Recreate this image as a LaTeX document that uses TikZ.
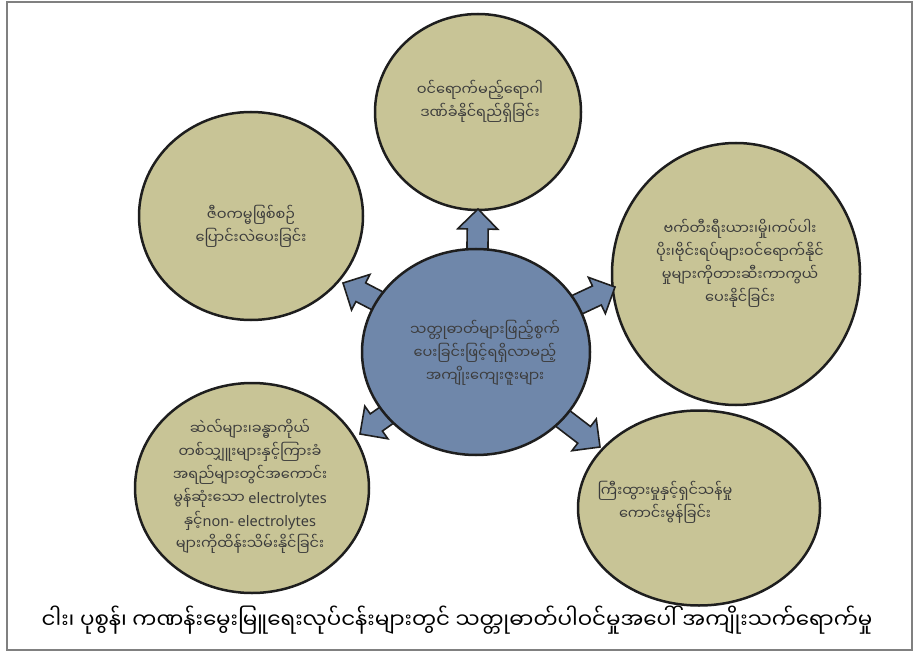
\documentclass[tikz,border=0pt]{standalone}
\usepackage{fontspec}
\newfontfamily\mya[Script=Myanmar]{Noto Sans Myanmar UI}
\newfontfamily\lat{Noto Sans}
\usetikzlibrary{shapes.geometric,calc}
\definecolor{khaki}{HTML}{C8C496}
\definecolor{steel}{HTML}{6F87AA}
\definecolor{outl}{HTML}{1E1E1E}
\definecolor{txt}{HTML}{3C3C3C}
\definecolor{framegray}{HTML}{808080}
\newcommand\blockarrow[2]{%
  \coordinate (#1#2h) at ($(#2)!20pt!(#1)$);
  \draw[barrow] ($(#1)!10.5pt!90:(#2)$) -- ($(#1#2h)!10.5pt!90:(#2)$)
    -- ($(#1#2h)!20pt!90:(#2)$) -- (#2) -- ($(#1#2h)!20pt!-90:(#2)$)
    -- ($(#1#2h)!10.5pt!-90:(#2)$) -- ($(#1)!10.5pt!-90:(#2)$) -- cycle;}
\begin{document}
\begin{tikzpicture}[x=1pt,y=-1pt,
  bubble/.style={ellipse, draw=outl, line width=2.5pt, fill=khaki, inner sep=0pt},
  hub/.style={ellipse, draw=outl, line width=2.5pt, fill=steel, inner sep=0pt},
  blurb/.style={font=\mya\fontsize{14.5}{23}\selectfont, text=txt, align=center, inner sep=0pt},
  barrow/.style={draw=outl, line width=1.6pt, fill=steel, line join=miter},
  frame/.style={draw=framegray, line width=1.2pt}]
\useasboundingbox (0,0) rectangle (913,652);
\draw[frame] (7,2) rectangle (912,650);

% outer bubbles
\node[bubble, minimum width=206pt, minimum height=196pt] (t)  at (478,112) {};
\node[bubble, minimum width=224pt, minimum height=208pt] (ul) at (251,216) {};
\node[bubble, minimum width=248pt, minimum height=262pt] (ur) at (736,274) {};
\node[bubble, minimum width=234pt, minimum height=210pt] (ll) at (252,488) {};
\node[bubble, minimum width=242pt, minimum height=195pt] (lr) at (699,508) {};

% centre coordinate and arrow tips
\coordinate (c) at (476,352);
\coordinate (tipT)  at (478,209);
\coordinate (tipUL) at (343,283);
\coordinate (tipUR) at (615,287);
\coordinate (tipLL) at (360,434);
\coordinate (tipLR) at (600,447);
\blockarrow{c}{tipT}
\blockarrow{c}{tipUL}
\blockarrow{c}{tipUR}
\blockarrow{c}{tipLL}
\blockarrow{c}{tipLR}

\node[hub, minimum width=228pt, minimum height=206pt] (hub) at (c) {};

% texts
\node[blurb] (tT) at (480,101) {ဝင်ရောက်မည့်ရောဂါ\\ဒဏ်ခံနိုင်ရည်ရှိခြင်း};
\node[blurb] (tUL) at (251,226) {ဇီဝကမ္မဖြစ်စဉ်\\ပြောင်းလဲပေးခြင်း};
\node[blurb] (tUR) at (740,263) {ဗက်တီးရီးယား၊မှို၊ကပ်ပါး\\ပိုး၊ဗိုင်းရပ်များဝင်ရောက်နိုင်\\မှုများကိုတားဆီးကာကွယ်\\ပေးနိုင်ခြင်း};
\node[blurb] (tC) at (485,353) {သတ္တုဓာတ်များဖြည့်စွက်\\ပေးခြင်းဖြင့်ရရှိလာမည့်\\အကျိုးကျေးဇူးများ};
\node[blurb] (tLL) at (250,486) {ဆဲလ်များ၊ခန္ဓာကိုယ်\\တစ်သျှူးများနှင့်ကြားခံ\\အရည်များတွင်အကောင်း\\မွန်ဆုံးသော {\lat electrolytes}\\နှင့်{\lat non- electrolytes}\\များကိုထိန်းသိမ်းနိုင်ခြင်း};
\node[blurb] (tLR) at (665,502) {ကြီးထွားမှုနှင့်ရှင်သန်မှု\\ကောင်းမွန်ခြင်း};

% caption
\node[font=\mya\fontsize{21.4}{26}\selectfont, inner sep=0pt] (cap) at (457,620)
  {ငါး၊ ပုစွန်၊ ကဏန်းမွေးမြူရေးလုပ်ငန်းများတွင် သတ္တုဓာတ်ပါဝင်မှုအပေါ် အကျိုးသက်ရောက်မှု};
\end{tikzpicture}
\end{document}
